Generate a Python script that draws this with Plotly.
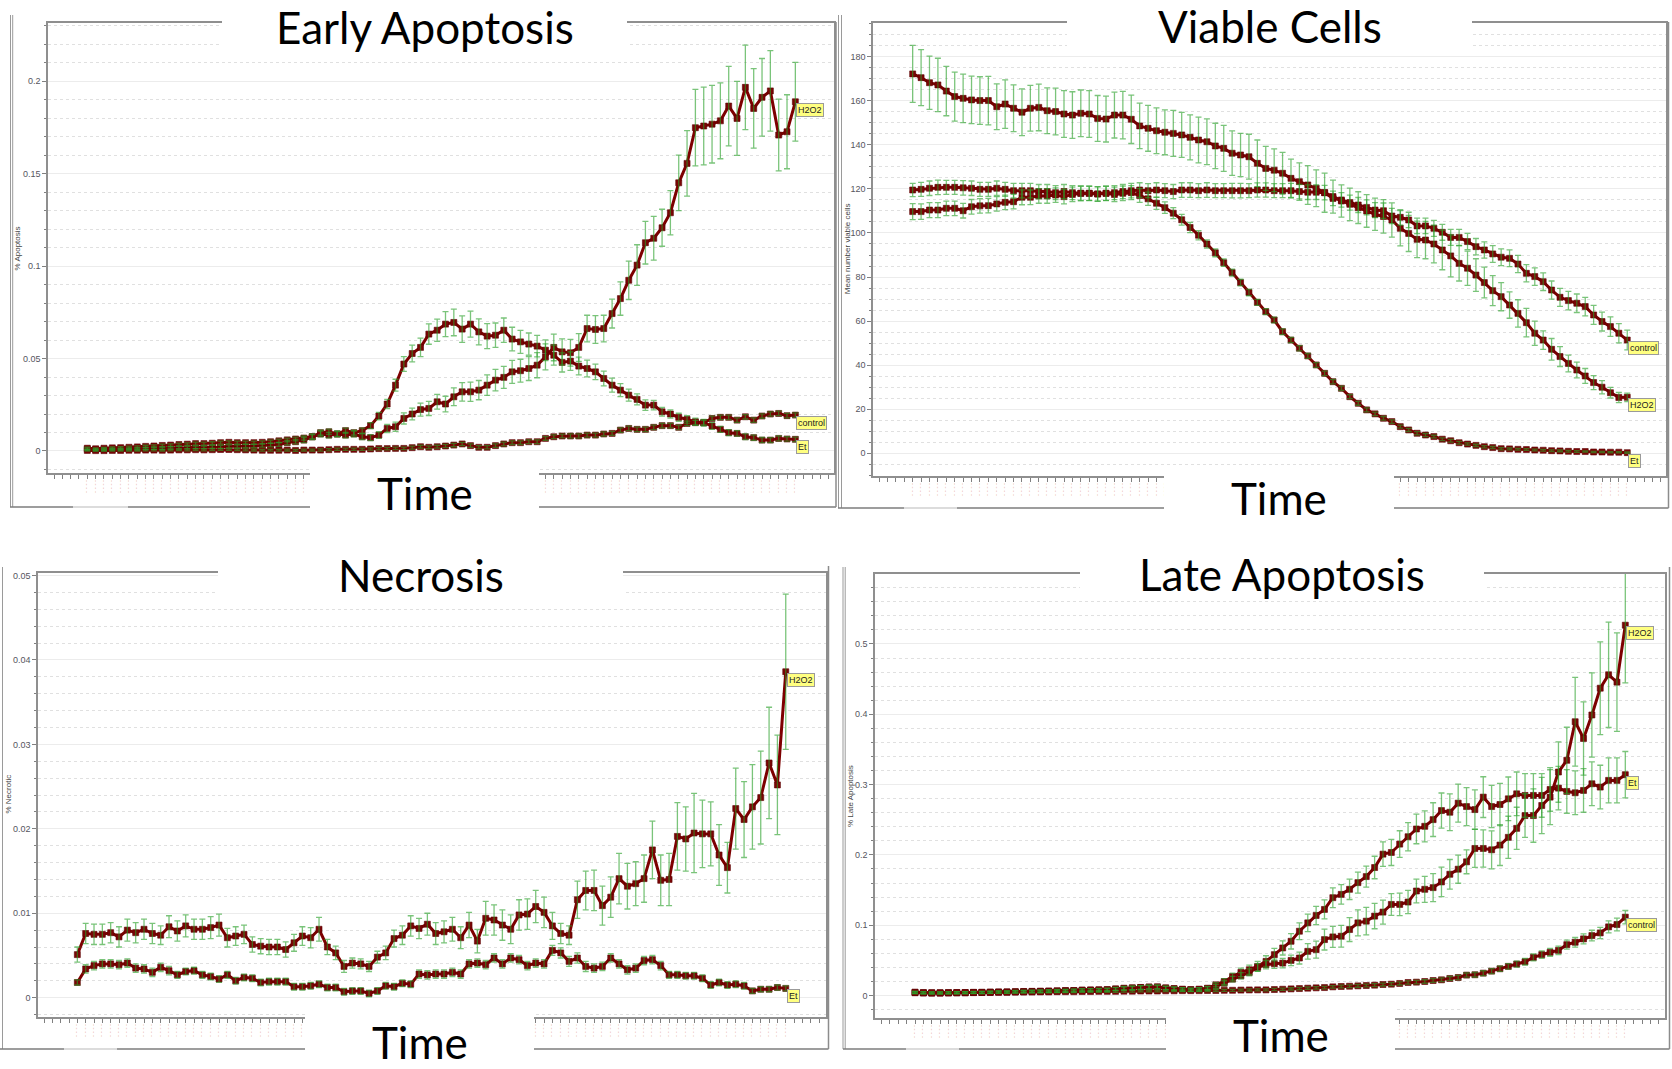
import plotly.graph_objects as go

W, H = 1672, 1069


def fx(x):
    return x / W


def fy(y):
    return 1 - y / H


time_index = list(range(86))

# ---------------- Early Apoptosis ----------------
ea_h2o2 = [0.0010, 0.0008, 0.0009, 0.0010, 0.0010, 0.0012, 0.0012, 0.0013, 0.0015, 0.0015, 0.0017, 0.0018,
           0.0018, 0.0020, 0.0020, 0.0022, 0.0022, 0.0025, 0.0025, 0.0027, 0.0027, 0.0030, 0.0032, 0.0035,
           0.0045, 0.0050, 0.0059, 0.0077, 0.0092, 0.0086, 0.0092, 0.0086, 0.0092, 0.0077, 0.0072, 0.0086,
           0.0122, 0.0131, 0.0176, 0.0200,
           0.0224, 0.0230, 0.0266, 0.0254, 0.0293, 0.0320, 0.0320, 0.0329, 0.0356, 0.0383, 0.0398, 0.0428,
           0.0434, 0.0446, 0.0464, 0.0509,
           0.0560, 0.0536, 0.0531, 0.0560, 0.0662, 0.0657, 0.0662, 0.0743, 0.0824, 0.0923, 0.1005, 0.1126,
           0.1150, 0.1207, 0.1288,
           0.1450, 0.1555, 0.1748, 0.1757, 0.1767, 0.1785, 0.1865, 0.1798, 0.1966, 0.1852, 0.1912, 0.1947,
           0.1708, 0.1726, 0.1888]
ea_et = [0.0015, 0.0012, 0.0015, 0.0017, 0.0018, 0.0020, 0.0022, 0.0025, 0.0027, 0.0030, 0.0032, 0.0035,
         0.0037, 0.0040, 0.0040, 0.0042, 0.0045, 0.0047, 0.0045, 0.0045, 0.0045, 0.0047, 0.0050, 0.0055,
         0.0060, 0.0065, 0.0070, 0.0077, 0.0099, 0.0104, 0.0092, 0.0110, 0.0099, 0.0110, 0.0137, 0.0189,
         0.0254, 0.0356, 0.0470, 0.0527,
         0.0560, 0.0632, 0.0653, 0.0686, 0.0695, 0.0659, 0.0686, 0.0644, 0.0621, 0.0626, 0.0653, 0.0605,
         0.0590, 0.0578, 0.0567, 0.0545,
         0.0518, 0.0479, 0.0486, 0.0459, 0.0446, 0.0428, 0.0392, 0.0356, 0.0329, 0.0302, 0.0279, 0.0248,
         0.0248, 0.0212, 0.0200,
         0.0182, 0.0171, 0.0158, 0.0153, 0.0135, 0.0117, 0.0099, 0.0095, 0.0077, 0.0072, 0.0059, 0.0059,
         0.0068, 0.0065, 0.0063]
ea_ctrl = [0.0003, 0.0002, 0.0002, 0.0003, 0.0003, 0.0004, 0.0004, 0.0005, 0.0005, 0.0004, 0.0005, 0.0006,
           0.0006, 0.0007, 0.0006, 0.0007, 0.0008, 0.0008, 0.0007, 0.0006, 0.0005, 0.0004, 0.0004, 0.0004,
           0.0005, 0.0003, 0.0005, 0.0005, 0.0005, 0.0007, 0.0009, 0.0009, 0.0009, 0.0009, 0.0011, 0.0013,
           0.0013, 0.0014, 0.0014, 0.0018,
           0.0023, 0.0020, 0.0023, 0.0027, 0.0032, 0.0038, 0.0029, 0.0020, 0.0020, 0.0029, 0.0038, 0.0045,
           0.0045, 0.0050, 0.0050, 0.0068,
           0.0077, 0.0081, 0.0081, 0.0081, 0.0086, 0.0086, 0.0092, 0.0095, 0.0113, 0.0122, 0.0117, 0.0117,
           0.0128, 0.0137, 0.0137,
           0.0128, 0.0149, 0.0153, 0.0153, 0.0176, 0.0182, 0.0182, 0.0167, 0.0185, 0.0167, 0.0189, 0.0200,
           0.0203, 0.0191, 0.0194]
ea_h2o2_err = [0.0006, 0.0005, 0.0005, 0.0005, 0.0005, 0.0005, 0.0006, 0.0006, 0.0006, 0.0006, 0.0006, 0.0007,
               0.0007, 0.0007, 0.0007, 0.0008, 0.0008, 0.0008, 0.0008, 0.0009, 0.0009, 0.0009, 0.0010, 0.0010,
               0.0012, 0.0012, 0.0014, 0.0015, 0.0016, 0.0015, 0.0016, 0.0015, 0.0016, 0.0015, 0.0016, 0.0018,
               0.0022, 0.0025, 0.0030, 0.0032,
               0.0035, 0.0038, 0.0040, 0.0042, 0.0048, 0.0050, 0.0052, 0.0052, 0.0055, 0.0058, 0.0060, 0.0062,
               0.0062, 0.0065, 0.0068, 0.0070,
               0.0072, 0.0070, 0.0072, 0.0075, 0.0072, 0.0075, 0.0072, 0.0078, 0.0090, 0.0104, 0.0110, 0.0115,
               0.0118, 0.0100, 0.0120,
               0.0150, 0.0177, 0.0207, 0.0210, 0.0210, 0.0205, 0.0215, 0.0200, 0.0228, 0.0215, 0.0210, 0.0218,
               0.0194, 0.0200, 0.0213]
ea_et_err = [0.0006, 0.0005, 0.0005, 0.0005, 0.0006, 0.0006, 0.0006, 0.0006, 0.0006, 0.0007, 0.0007, 0.0007,
             0.0007, 0.0008, 0.0008, 0.0008, 0.0008, 0.0008, 0.0008, 0.0008, 0.0008, 0.0008, 0.0009, 0.0009,
             0.0010, 0.0010, 0.0011, 0.0012, 0.0014, 0.0014, 0.0013, 0.0014, 0.0013, 0.0014, 0.0016, 0.0020,
             0.0025, 0.0032, 0.0040, 0.0045,
             0.0050, 0.0055, 0.0060, 0.0068, 0.0072, 0.0072, 0.0070, 0.0070, 0.0068, 0.0066, 0.0066, 0.0064,
             0.0062, 0.0060, 0.0058, 0.0056,
             0.0054, 0.0052, 0.0050, 0.0048, 0.0045, 0.0042, 0.0040, 0.0038, 0.0035, 0.0032, 0.0030, 0.0028,
             0.0026, 0.0024, 0.0022,
             0.0022, 0.0020, 0.0020, 0.0018, 0.0018, 0.0016, 0.0016, 0.0015, 0.0015, 0.0014, 0.0014, 0.0013,
             0.0013, 0.0012, 0.0012]
ea_ctrl_err = [0.0004, 0.0004, 0.0004, 0.0004, 0.0004, 0.0004, 0.0004, 0.0004, 0.0004, 0.0004, 0.0004, 0.0004,
               0.0005, 0.0005, 0.0005, 0.0005, 0.0005, 0.0005, 0.0005, 0.0005, 0.0005, 0.0005, 0.0005, 0.0005,
               0.0005, 0.0005, 0.0005, 0.0005, 0.0006, 0.0006, 0.0006, 0.0006, 0.0006, 0.0006, 0.0006, 0.0007,
               0.0007, 0.0007, 0.0007, 0.0008,
               0.0008, 0.0008, 0.0008, 0.0009, 0.0009, 0.0009, 0.0009, 0.0009, 0.0009, 0.0009, 0.0010, 0.0010,
               0.0010, 0.0010, 0.0010, 0.0010,
               0.0010, 0.0010, 0.0011, 0.0011, 0.0011, 0.0011, 0.0011, 0.0011, 0.0012, 0.0012, 0.0012, 0.0012,
               0.0012, 0.0012, 0.0012,
               0.0012, 0.0012, 0.0012, 0.0012, 0.0012, 0.0012, 0.0012, 0.0012, 0.0012, 0.0012, 0.0012, 0.0012,
               0.0012, 0.0012, 0.0012]

# ---------------- Viable Cells ----------------
vc_ctrl = [119.5, 119.8, 120.3, 120.7, 120.7, 120.7, 120.5, 120.3, 119.8, 119.8, 120.3, 119.8, 119.2, 119.2,
           119.2, 118.8, 118.8, 118.3, 118.8, 118.3, 118.0, 118.0, 117.7, 118.0, 118.3, 118.8, 119.2, 119.5,
           119.2, 119.5, 119.2, 118.8, 119.5, 119.5, 119.2, 119.5, 119.2, 119.2, 119.2, 119.2, 119.2,
           119.5, 119.5, 119.2, 119.2, 119.2, 118.8, 118.5, 118.5, 118.3,
           115.7, 115.0, 113.8, 112.7, 111.6, 110.4, 110.1, 107.7, 107.1, 105.9, 103.2, 103.2, 102.1, 100.3,
           98.0, 98.0, 96.1, 93.8, 92.3, 90.5, 89.0, 88.5, 85.9, 81.7, 80.2, 77.9, 74.1, 70.8, 69.3, 68.1,
           66.6, 62.8, 59.8, 57.5, 54.5, 51.4]
vc_h2o2 = [172.2, 170.5, 168.2, 167.2, 164.4, 161.9, 161.1, 160.4, 160.1, 160.1, 157.3, 158.5, 156.6, 154.8,
           156.6, 157.0, 155.5, 155.1, 154.0, 153.5, 154.3, 154.0, 152.0, 151.7, 153.5, 153.5, 151.6, 148.6,
           147.5, 146.4, 145.7, 145.2, 144.5, 143.4, 142.2, 141.4, 139.5, 138.4, 136.2, 135.4, 134.6,
           131.6, 129.3, 128.5, 127.1, 124.8, 123.3, 121.8, 120.3, 118.3,
           116.5, 114.5, 113.0, 111.5, 110.0, 108.5, 107.5, 105.9, 102.1, 99.8, 97.1, 96.8, 95.0, 92.3,
           89.6, 86.2, 84.0, 80.9, 77.5, 73.8, 71.1, 67.3, 63.5, 59.3, 54.5, 51.4, 47.2, 43.9, 40.8, 37.8,
           35.1, 32.1, 30.0, 27.5, 25.3, 25.4]
vc_et = [109.7, 109.7, 110.4, 110.4, 111.2, 111.2, 110.1, 111.9, 112.3, 112.4, 113.2, 113.9, 114.2, 116.2,
         116.2, 116.8, 116.8, 117.2, 116.5, 117.5, 118.0, 118.0, 117.7, 118.0, 117.5, 118.0, 118.3,
         117.0, 115.5, 113.5, 111.5, 109.0, 106.0, 102.5, 99.0, 95.0, 91.0, 86.5, 82.0, 77.5, 73.0,
         68.5, 64.3, 60.5, 55.2, 51.4, 47.7, 44.2, 40.1, 36.3, 32.5, 29.5, 25.7, 22.7, 19.7, 17.9, 15.9,
         14.4, 12.1, 10.6, 9.1, 8.3, 7.6, 6.4, 5.7, 4.8, 4.2, 3.6, 3.0, 2.6, 2.1, 2.0, 1.8, 1.7, 1.5, 1.4,
         1.2, 1.1, 0.9, 0.8, 0.8, 0.6, 0.6, 0.5, 0.5, 0.3]
vc_h2o2_err = [12.9, 12.7, 12.1, 12.1, 11.2, 11.1, 11.0, 10.8, 10.8, 11.0, 10.4, 11.0, 10.6, 10.6, 10.4, 10.6,
               10.4, 10.6, 10.6, 10.6, 10.6, 10.6, 10.4, 10.4, 10.4, 10.8, 11.0, 10.3, 10.4, 10.4, 10.2, 10.4,
               10.2, 10.2, 10.4, 10.4, 10.3, 10.4, 10.1, 9.8, 10.2,
               10.6, 10.0, 9.7, 9.5, 8.7, 8.5, 8.8, 8.3, 8.9, 7.5, 7.3, 7.4, 7.2, 7.4, 7.3, 7.6, 7.8, 8.0, 8.2,
               8.3, 8.5, 8.6, 9.0, 9.5, 8.0, 7.8, 7.4, 7.0, 6.8, 6.4, 6.0, 6.2, 6.5, 5.5, 4.2, 4.9, 4.5, 3.8,
               3.6, 3.4, 3.2, 3.0, 2.4, 2.3, 1.9]
vc_ctrl_err = [3.0, 3.2, 3.3, 3.3, 3.2, 3.2, 3.3, 3.3, 3.2, 3.2, 3.3, 3.2, 3.3, 3.3, 3.3, 3.2, 3.2, 3.2, 3.2,
               3.2, 3.2, 3.2, 3.2, 3.2, 3.2, 3.2, 3.3, 3.3, 3.2, 3.3, 3.2, 3.2, 3.3, 3.3, 3.2, 3.3, 3.2, 3.2,
               3.3, 3.3, 3.2, 3.2, 3.2, 3.2, 3.2, 3.3, 3.3, 3.3, 3.3, 3.3,
               3.3, 3.3, 3.4, 3.4, 3.4, 3.4, 3.5, 3.5, 3.5, 3.5, 3.5, 3.5, 3.6, 3.6, 3.6, 3.6, 3.7, 3.7, 3.7,
               3.8, 3.8, 3.8, 3.9, 3.9, 4.0, 4.0, 4.1, 4.1, 4.2, 4.2, 4.2, 4.3, 4.3, 4.4, 4.4, 4.5]
vc_et_err = [3.6, 3.5, 3.4, 3.4, 3.3, 3.3, 3.3, 3.3, 3.3, 3.3, 3.3, 3.3, 3.3, 3.4, 3.3, 3.3, 3.3, 3.3, 3.3,
             3.3, 3.4, 3.3, 3.3, 3.3, 3.3, 3.3, 3.2, 3.1, 3.0, 2.8, 2.6,
             2.5, 2.4, 2.3, 2.1, 1.9, 1.8, 1.7, 1.6, 1.5, 1.5, 1.4, 1.4, 1.3, 1.3, 1.2, 1.2, 1.1, 1.1, 1.0,
             1.0, 1.0, 0.9, 0.9, 0.9, 0.8,
             0.8, 0.8, 0.7, 0.7, 0.7, 0.7, 0.6, 0.6, 0.6, 0.6, 0.5, 0.5, 0.5, 0.5, 0.5, 0.4, 0.4, 0.4, 0.4,
             0.4, 0.4, 0.4, 0.4, 0.4, 0.3, 0.3, 0.3, 0.3, 0.3, 0.3]

# ---------------- Necrosis ----------------
nc_h2o2 = [0.0051, 0.0076, 0.0075, 0.0075, 0.0077, 0.0072, 0.0080, 0.0077, 0.0081, 0.0076, 0.0074, 0.0084,
           0.0079, 0.0085, 0.0081, 0.0081, 0.0083, 0.0086, 0.0071, 0.0073, 0.0075, 0.0063, 0.0061, 0.0060,
           0.0060, 0.0057, 0.0065, 0.0073, 0.0071, 0.0081, 0.0060, 0.0053, 0.0037, 0.0041, 0.0040, 0.0037,
           0.0048, 0.0053, 0.0070, 0.0074, 0.0085, 0.0082,
           0.0087, 0.0076, 0.0078, 0.0081, 0.0071, 0.0086, 0.0067, 0.0094, 0.0092, 0.0086, 0.0081, 0.0098,
           0.0099, 0.0108, 0.0101, 0.0085, 0.0076, 0.0074, 0.0116, 0.0127, 0.0127, 0.0109, 0.0119, 0.0141,
           0.0132, 0.0135, 0.0141, 0.0175, 0.0139, 0.0140, 0.0191, 0.0188, 0.0195, 0.0194, 0.0194, 0.0169,
           0.0154, 0.0224, 0.0211, 0.0226, 0.0237, 0.0278, 0.0252, 0.0386]
nc_et = [0.0018, 0.0034, 0.0038, 0.0040, 0.0040, 0.0039, 0.0041, 0.0035, 0.0034, 0.0030, 0.0036, 0.0032,
         0.0027, 0.0031, 0.0032, 0.0027, 0.0025, 0.0022, 0.0027, 0.0020, 0.0024, 0.0023, 0.0018, 0.0019,
         0.0019, 0.0019, 0.0013, 0.0013, 0.0014, 0.0016, 0.0012, 0.0012, 0.0007, 0.0008, 0.0008, 0.0005,
         0.0008, 0.0014, 0.0013, 0.0017, 0.0016, 0.0028,
         0.0027, 0.0028, 0.0028, 0.0030, 0.0028, 0.0040, 0.0041, 0.0039, 0.0047, 0.0040, 0.0047, 0.0045,
         0.0038, 0.0041, 0.0040, 0.0056, 0.0053, 0.0043, 0.0047, 0.0037, 0.0035, 0.0037, 0.0047, 0.0040,
         0.0033, 0.0035, 0.0044, 0.0045, 0.0038, 0.0027, 0.0027, 0.0026, 0.0026, 0.0023, 0.0015, 0.0018,
         0.0015, 0.0016, 0.0014, 0.0008, 0.0010, 0.0010, 0.0012, 0.0011]
nc_h2o2_err = [0.0009, 0.0012, 0.0012, 0.0012, 0.0012, 0.0012, 0.0013, 0.0012, 0.0012, 0.0012, 0.0011, 0.0013,
               0.0012, 0.0013, 0.0012, 0.0012, 0.0013, 0.0013, 0.0011, 0.0011, 0.0011, 0.0009, 0.0009, 0.0009,
               0.0009, 0.0009, 0.0010, 0.0011, 0.0012, 0.0014, 0.0009, 0.0008, 0.0007, 0.0006, 0.0006, 0.0006,
               0.0007, 0.0008, 0.0010, 0.0011, 0.0012, 0.0012,
               0.0013, 0.0013, 0.0013, 0.0014, 0.0013, 0.0015, 0.0014, 0.0020, 0.0018, 0.0018, 0.0017, 0.0018,
               0.0018, 0.0019, 0.0018, 0.0016, 0.0012, 0.0011, 0.0022, 0.0023, 0.0024, 0.0023, 0.0024, 0.0030,
               0.0027, 0.0026, 0.0028, 0.0034, 0.0030, 0.0031, 0.0040, 0.0038, 0.0047, 0.0040, 0.0038, 0.0036,
               0.0030, 0.0048, 0.0045, 0.0050, 0.0055, 0.0066, 0.0059, 0.0092]
nc_et_err = [0.0003, 0.0005, 0.0005, 0.0005, 0.0005, 0.0005, 0.0005, 0.0005, 0.0005, 0.0005, 0.0005, 0.0005,
             0.0004, 0.0004, 0.0004, 0.0004, 0.0004, 0.0004, 0.0004, 0.0004, 0.0004, 0.0004, 0.0004, 0.0004,
             0.0004, 0.0004, 0.0004, 0.0004, 0.0004, 0.0004, 0.0004, 0.0004, 0.0004, 0.0004, 0.0004, 0.0004,
             0.0004, 0.0004, 0.0004, 0.0004, 0.0004, 0.0005,
             0.0005, 0.0005, 0.0005, 0.0005, 0.0005, 0.0005, 0.0005, 0.0005, 0.0005, 0.0005, 0.0005, 0.0005,
             0.0005, 0.0005, 0.0005, 0.0006, 0.0006, 0.0006, 0.0006, 0.0006, 0.0005, 0.0005, 0.0005, 0.0005,
             0.0005, 0.0005, 0.0005, 0.0005, 0.0005, 0.0004, 0.0004, 0.0004, 0.0004, 0.0004, 0.0004, 0.0004,
             0.0004, 0.0004, 0.0004, 0.0003, 0.0003, 0.0003, 0.0003, 0.0003]

# ---------------- Late Apoptosis ----------------
la_h2o2 = [0.0040, 0.0038, 0.0035, 0.0035, 0.0038, 0.0040, 0.0040, 0.0042, 0.0045, 0.0048, 0.0050, 0.0052,
           0.0055, 0.0058, 0.0060, 0.0062, 0.0065, 0.0068, 0.0070, 0.0072, 0.0078, 0.0080, 0.0082, 0.0085,
           0.0092, 0.0100, 0.0108, 0.0115, 0.0122, 0.0118, 0.0105, 0.0095, 0.0088, 0.0082, 0.0088, 0.0098,
           0.0129, 0.0176, 0.0234, 0.0281, 0.0329,
           0.0400, 0.0439, 0.0453, 0.0462, 0.0500, 0.0534, 0.0629, 0.0653, 0.0796, 0.0834, 0.0844, 0.0939,
           0.1034, 0.1058, 0.1130, 0.1187, 0.1296, 0.1296, 0.1330, 0.1487, 0.1511, 0.1535, 0.1616, 0.1725,
           0.1797, 0.1902, 0.2092, 0.2092, 0.2073, 0.2140, 0.2250, 0.2378, 0.2560, 0.2560, 0.2703, 0.2822,
           0.3179, 0.3346, 0.3894, 0.3656, 0.3990, 0.4371, 0.4562, 0.4457, 0.5267]
la_et = [0.0048, 0.0040, 0.0038, 0.0038, 0.0040, 0.0040, 0.0042, 0.0045, 0.0045, 0.0048, 0.0050, 0.0050,
         0.0052, 0.0055, 0.0058, 0.0060, 0.0062, 0.0065, 0.0070, 0.0072, 0.0075, 0.0078, 0.0080, 0.0082,
         0.0095, 0.0105, 0.0110, 0.0115, 0.0120, 0.0125, 0.0110, 0.0100, 0.0090, 0.0085, 0.0090, 0.0105,
         0.0153, 0.0200, 0.0270, 0.0330, 0.0367,
         0.0415, 0.0486, 0.0582, 0.0677, 0.0772, 0.0915, 0.1034, 0.1139, 0.1225, 0.1392, 0.1439, 0.1511,
         0.1606, 0.1692, 0.1821, 0.2011, 0.2035, 0.2154, 0.2259, 0.2369, 0.2407, 0.2502, 0.2631, 0.2607,
         0.2736, 0.2688, 0.2645, 0.2822, 0.2688, 0.2717, 0.2798, 0.2869, 0.2846, 0.2846, 0.2846, 0.2931,
         0.2950, 0.2903, 0.2884, 0.2917, 0.3012, 0.2965, 0.3060, 0.3060, 0.3141]
la_ctrl = [0.0045, 0.0040, 0.0040, 0.0040, 0.0040, 0.0042, 0.0042, 0.0045, 0.0045, 0.0045, 0.0048, 0.0048,
           0.0050, 0.0050, 0.0050, 0.0052, 0.0052, 0.0055, 0.0055, 0.0055, 0.0057, 0.0057, 0.0060, 0.0060,
           0.0060, 0.0062, 0.0062, 0.0065, 0.0065, 0.0065, 0.0068, 0.0068, 0.0070, 0.0070, 0.0070, 0.0072,
           0.0072, 0.0075, 0.0075, 0.0078, 0.0080,
           0.0081, 0.0081, 0.0086, 0.0090, 0.0095, 0.0100, 0.0105, 0.0110, 0.0114, 0.0124, 0.0129, 0.0133,
           0.0138, 0.0143, 0.0148, 0.0157, 0.0162, 0.0172, 0.0186, 0.0191, 0.0200, 0.0214, 0.0224, 0.0243,
           0.0257, 0.0291, 0.0296, 0.0319, 0.0348, 0.0381, 0.0415, 0.0448, 0.0481, 0.0543, 0.0582, 0.0615,
           0.0643, 0.0724, 0.0758, 0.0806, 0.0853, 0.0891, 0.0977, 0.1010, 0.1115]
la_h2o2_err = [0.0015, 0.0015, 0.0015, 0.0015, 0.0015, 0.0015, 0.0015, 0.0015, 0.0016, 0.0016, 0.0016, 0.0016,
               0.0017, 0.0017, 0.0017, 0.0018, 0.0018, 0.0018, 0.0019, 0.0019, 0.0020, 0.0020, 0.0020, 0.0021,
               0.0022, 0.0024, 0.0025, 0.0026, 0.0027, 0.0027, 0.0025, 0.0024, 0.0023, 0.0022, 0.0023, 0.0025,
               0.0030, 0.0035, 0.0040, 0.0045, 0.0050,
               0.0055, 0.0060, 0.0065, 0.0068, 0.0075, 0.0085, 0.0110, 0.0120, 0.0148, 0.0150, 0.0155, 0.0170,
               0.0185, 0.0195, 0.0180, 0.0170, 0.0155, 0.0160, 0.0165, 0.0170, 0.0185, 0.0200, 0.0210, 0.0210,
               0.0200, 0.0170, 0.0270, 0.0265, 0.0270, 0.0290, 0.0300, 0.0300, 0.0310, 0.0380, 0.0400, 0.0390,
               0.0430, 0.0470, 0.0630, 0.0520, 0.0600, 0.0660, 0.0750, 0.0700, 0.0820]
la_et_err = [0.0015, 0.0015, 0.0015, 0.0015, 0.0015, 0.0015, 0.0015, 0.0015, 0.0016, 0.0016, 0.0016, 0.0016,
             0.0017, 0.0017, 0.0017, 0.0018, 0.0018, 0.0018, 0.0019, 0.0019, 0.0020, 0.0020, 0.0020, 0.0021,
             0.0022, 0.0024, 0.0025, 0.0026, 0.0027, 0.0027, 0.0025, 0.0024, 0.0023, 0.0022, 0.0023, 0.0025,
             0.0030, 0.0040, 0.0050, 0.0060, 0.0065,
             0.0070, 0.0080, 0.0090, 0.0100, 0.0110, 0.0120, 0.0125, 0.0130, 0.0135, 0.0140, 0.0140, 0.0145,
             0.0150, 0.0150, 0.0160, 0.0175, 0.0185, 0.0190, 0.0200, 0.0210, 0.0220, 0.0240, 0.0250, 0.0260,
             0.0270, 0.0270, 0.0280, 0.0290, 0.0300, 0.0300, 0.0310, 0.0310, 0.0310, 0.0310, 0.0310, 0.0310,
             0.0310, 0.0310, 0.0310, 0.0310, 0.0310, 0.0310, 0.0320, 0.0320, 0.0330]
la_ctrl_err = [0.0012, 0.0012, 0.0012, 0.0012, 0.0012, 0.0012, 0.0012, 0.0012, 0.0012, 0.0012, 0.0012, 0.0012,
               0.0012, 0.0012, 0.0012, 0.0012, 0.0012, 0.0012, 0.0012, 0.0012, 0.0013, 0.0013, 0.0013, 0.0013,
               0.0013, 0.0013, 0.0013, 0.0013, 0.0013, 0.0013, 0.0013, 0.0013, 0.0014, 0.0014, 0.0014, 0.0014,
               0.0014, 0.0014, 0.0014, 0.0015, 0.0015,
               0.0015, 0.0015, 0.0016, 0.0016, 0.0016, 0.0017, 0.0017, 0.0017, 0.0018, 0.0018, 0.0019, 0.0019,
               0.0020, 0.0020, 0.0021, 0.0021, 0.0022, 0.0022, 0.0023, 0.0024, 0.0025, 0.0026, 0.0027, 0.0028,
               0.0029, 0.0030, 0.0032, 0.0034, 0.0036, 0.0038, 0.0040, 0.0043, 0.0046, 0.0050, 0.0053, 0.0056,
               0.0060, 0.0064, 0.0068, 0.0072, 0.0076, 0.0080, 0.0085, 0.0090, 0.0095]

panel_titles = ["Early Apoptosis", "Viable Cells", "Necrosis", "Late Apoptosis"]
y_titles = ["% Apoptosis", "Mean number viable cells", "% Necrotic", "% Late Apoptosis"]
x_title = "Time"

for arr in [ea_h2o2, ea_et, ea_ctrl, ea_h2o2_err, ea_et_err, ea_ctrl_err, vc_ctrl, vc_h2o2, vc_et,
            vc_h2o2_err, vc_ctrl_err, vc_et_err, nc_h2o2, nc_et, nc_h2o2_err, nc_et_err, la_h2o2, la_et,
            la_ctrl, la_h2o2_err, la_et_err, la_ctrl_err]:
    assert len(arr) == 86, len(arr)

# ---------------- layout geometry (pixels) ----------------
panels = [
    dict(n="", dom=(48, 833.5, 23, 473), xr=(-4.72, 89.58), yr=(-0.0119, 0.2314), dtick=0.05, mdtick=0.01,
         series=[("H2O2", ea_h2o2, ea_h2o2_err), ("control", ea_ctrl, ea_ctrl_err), ("Et", ea_et, ea_et_err)],
         ytpos=(16.5, 249), title_box=(222, 627, -2, 52), title_y=26.5, time_box=(310, 539, 463, 531),
         time_y=493, frame=dict(lefts=[10.5, 12.7], ltop=15, bottom=507, left_x0=10, right=836, rtop=22,
                                light=(73, 128))),
    dict(n="2", dom=(873, 1665.5, 23, 476), xr=(-4.72, 89.55), yr=(-10.3, 195.3), dtick=20, mdtick=5,
         series=[("control", vc_ctrl, vc_ctrl_err), ("H2O2", vc_h2o2, vc_h2o2_err), ("Et", vc_et, vc_et_err)],
         ytpos=(847.7, 248.5), title_box=(1067, 1472, -2, 51), title_y=26, time_box=(1164, 1394, 466, 531),
         time_y=498, frame=dict(lefts=[838.5, 841.5], ltop=15, bottom=508, left_x0=838, right=1668.5, rtop=22,
                                light=(904, 957))),
    dict(n="3", dom=(38, 825.5, 573, 1017), xr=(-4.72, 89.77), yr=(-0.00229, 0.0503), dtick=0.01, mdtick=0.002,
         series=[("H2O2", nc_h2o2, nc_h2o2_err), ("Et", nc_et, nc_et_err)],
         ytpos=(7.5, 794), title_box=(218, 623, 545, 600), title_y=574.5, time_box=(305, 534, 1008, 1070),
         time_y=1042, frame=dict(lefts=[2.5], ltop=567, bottom=1049, left_x0=0, right=828.5, rtop=566,
                                 light=(64, 117))),
    dict(n="4", dom=(875, 1665, 574, 1018), xr=(-4.79, 89.75), yr=(-0.0319, 0.5995), dtick=0.1, mdtick=0.02,
         series=[("H2O2", la_h2o2, la_h2o2_err), ("Et", la_et, la_et_err), ("control", la_ctrl, la_ctrl_err)],
         ytpos=(850.5, 796.5), title_box=(1080, 1484, 545, 597), title_y=573.5, time_box=(1166, 1395, 1008, 1070),
         time_y=1035, frame=dict(lefts=[843, 845.2], ltop=567, bottom=1049, left_x0=843, right=1669.5, rtop=567,
                                 light=(906, 959))),
]

LINE_RED = "#7d0000"
ERR_GREEN = "rgba(40,160,40,0.62)"
AXIS_GRAY = "#8f8f8f"

fig = go.Figure()
layout = dict(width=W, height=H, margin=dict(l=0, r=0, t=0, b=0), paper_bgcolor="white",
              plot_bgcolor="white", showlegend=False)
shapes = []
annotations = []

for k, p in enumerate(panels):
    n = p["n"]
    x0, x1, y0, y1 = p["dom"]
    tickvals = [v for v in range(-4, 90) if p["xr"][0] <= v <= p["xr"][1]]
    ticktext = ["- - - -" if 0 <= v <= 85 else "" for v in tickvals]
    layout["xaxis" + n] = dict(
        domain=[fx(x0), fx(x1)], range=list(p["xr"]), anchor="y" + n, showgrid=False, zeroline=False,
        showline=True, linecolor=AXIS_GRAY, linewidth=1.5, mirror=True, ticks="outside", ticklen=4,
        tickcolor="#808080", tickwidth=1, tickmode="array", tickvals=tickvals, ticktext=ticktext,
        tickangle=90, tickfont=dict(size=6, color="#e3a08c", family="Arial"), automargin=False,
        fixedrange=True)
    layout["yaxis" + n] = dict(
        domain=[fy(y1), fy(y0)], range=list(p["yr"]), anchor="x" + n, showgrid=True, gridcolor="#ececec",
        gridwidth=1, zeroline=False, showline=True, linecolor=AXIS_GRAY, linewidth=1.5, mirror=True,
        ticks="outside", ticklen=4, tickcolor="#808080", tick0=0, dtick=p["dtick"],
        tickfont=dict(size=9, color="#555560", family="Arial"), automargin=False, fixedrange=True,
        minor=dict(dtick=p["mdtick"], tick0=0, ticks="outside", ticklen=2, tickcolor="#808080",
                   showgrid=True, gridcolor="#e0e0e0", griddash="dot", gridwidth=1))

    xa, ya = "x" + n, "y" + n
    for name, vals, errs in p["series"]:
        fig.add_trace(go.Scatter(
            x=time_index, y=vals, xaxis=xa, yaxis=ya, mode="lines+markers", name=name,
            line=dict(color=LINE_RED, width=3),
            marker=dict(symbol="square", size=6, color="#7a0505", line=dict(color="#5a0000", width=0.6))))
    for name, vals, errs in p["series"]:
        fig.add_trace(go.Scatter(
            x=time_index, y=vals, xaxis=xa, yaxis=ya, mode="markers", name=name + " sd",
            marker=dict(size=2, opacity=0),
            error_y=dict(type="data", array=errs, visible=True, color=ERR_GREEN, thickness=1.3, width=3)))
        annotations.append(dict(
            x=time_index[-1], y=vals[-1], xref=xa, yref=ya, text=name, showarrow=False,
            xanchor="left", yanchor="top", xshift=1, yshift=-1,
            font=dict(size=9, color="#222", family="Arial"), bgcolor="#ffff80",
            bordercolor="#9a9a9a", borderwidth=1, borderpad=1))

    # y axis title
    annotations.append(dict(
        x=fx(p["ytpos"][0]), y=fy(p["ytpos"][1]), xref="paper", yref="paper", text=y_titles[k],
        textangle=-90, showarrow=False, xanchor="center", yanchor="middle",
        font=dict(size=8, color="#444", family="Arial")))

    # outer frame of the screenshot
    fr = p["frame"]
    for lx in fr["lefts"]:
        shapes.append(dict(type="line", xref="paper", yref="paper", x0=fx(lx), x1=fx(lx),
                           y0=fy(fr["ltop"]), y1=fy(fr["bottom"]), line=dict(color="#9a9a9a", width=1),
                           layer="above"))
    shapes.append(dict(type="line", xref="paper", yref="paper", x0=fx(fr["left_x0"]), x1=fx(fr["right"]),
                       y0=fy(fr["bottom"]), y1=fy(fr["bottom"]), line=dict(color="#7c7c7c", width=1.6),
                       layer="above"))
    shapes.append(dict(type="line", xref="paper", yref="paper", x0=fx(fr["light"][0]), x1=fx(fr["light"][1]),
                       y0=fy(fr["bottom"]), y1=fy(fr["bottom"]), line=dict(color="#dcdcdc", width=2),
                       layer="above"))
    shapes.append(dict(type="line", xref="paper", yref="paper", x0=fx(fr["right"]), x1=fx(fr["right"]),
                       y0=fy(fr["rtop"]), y1=fy(fr["bottom"]), line=dict(color="#8c8c8c", width=1.5),
                       layer="above"))

# white boxes behind the big titles (drawn last so they mask lines)
for k, p in enumerate(panels):
    bx0, bx1, by0, by1 = p["title_box"]
    shapes.append(dict(type="rect", xref="paper", yref="paper", x0=fx(bx0), x1=fx(bx1), y0=fy(by1), y1=fy(by0),
                       fillcolor="white", line=dict(width=0), layer="above"))
    tx0, tx1, ty0, ty1 = p["time_box"]
    shapes.append(dict(type="rect", xref="paper", yref="paper", x0=fx(tx0), x1=fx(tx1), y0=fy(ty1), y1=fy(ty0),
                       fillcolor="white", line=dict(width=0), layer="above"))
    annotations.append(dict(
        x=fx((bx0 + bx1) / 2), y=fy(p["title_y"]), xref="paper", yref="paper", text=panel_titles[k],
        showarrow=False, xanchor="center", yanchor="middle",
        font=dict(size=44, color="black", family="Lato")))
    annotations.append(dict(
        x=fx((tx0 + tx1) / 2), y=fy(p["time_y"]), xref="paper", yref="paper", text=x_title,
        showarrow=False, xanchor="center", yanchor="middle",
        font=dict(size=44, color="black", family="Lato")))

layout["shapes"] = shapes
layout["annotations"] = annotations
fig.update_layout(**layout)

fig.write_html("out.html", config={"displayModeBar": False},
               post_script="document.body.style.margin='0';document.body.style.overflow='hidden';")
